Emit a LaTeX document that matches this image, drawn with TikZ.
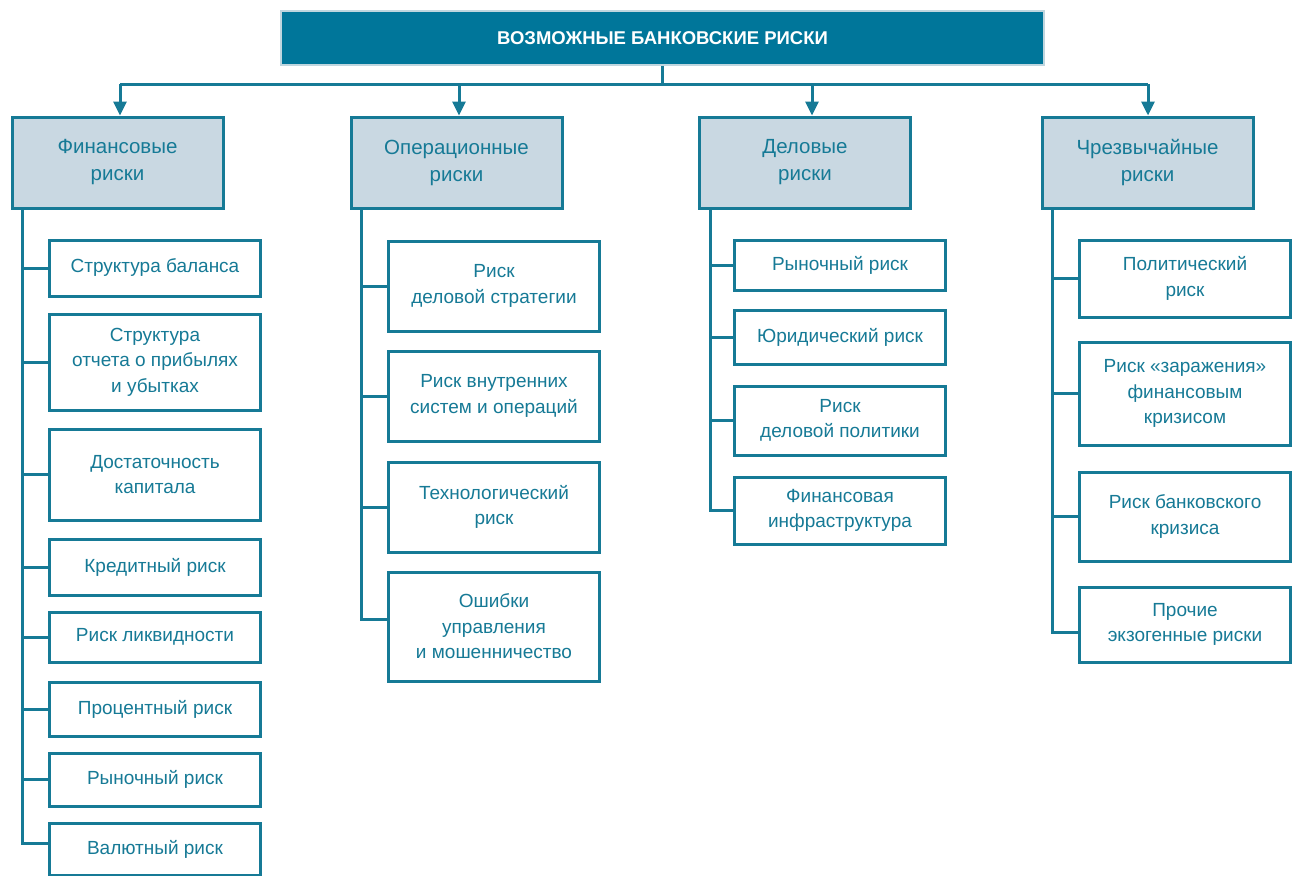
\documentclass[tikz,border=0pt]{standalone}
\usepackage{fontspec}
\setmainfont{Liberation Sans}
\usepackage{xcolor}
\usetikzlibrary{arrows.meta, positioning}
\definecolor{tealdark}{HTML}{00769A}
\definecolor{tealline}{HTML}{167A96}
\definecolor{catfill}{HTML}{C9D8E2}
\definecolor{topedge}{HTML}{BFD6DF}

\begin{document}
\begin{tikzpicture}[x=1pt,y=-1pt,
    top/.style={draw=topedge,line width=2pt,fill=tealdark,text=white,minimum width=763pt,minimum height=54pt,font=\fontsize{18.5}{20}\selectfont\bfseries},
    cat/.style={draw=tealline,line width=3pt,fill=catfill,text=tealline,minimum width=211pt,minimum height=91pt,align=center,font=\fontsize{20.5}{27}\selectfont},
    leaf/.style={draw=tealline,line width=3pt,fill=white,text=tealline,minimum width=211pt,align=center,font=\fontsize{19}{25.5}\selectfont},
    link/.style={draw=tealline,line width=3pt},
    arr/.style={link,-{Triangle[width=13pt,length=14pt]}}]
       \useasboundingbox (0,0) rectangle (1295,875);
       % head
       \node[top] (root) at (662.5,38) {ВОЗМОЖНЫЕ БАНКОВСКИЕ РИСКИ};
       \coordinate (bus) at (662.5,84);
       % groups
       \node[cat] (c1) at (117.5,162.5) {Финансовые\\риски};
       \node[cat] (c2) at (456.5,162.5) {Операционные\\риски};
       \node[cat] (c3) at (805,162.5) {Деловые\\риски};
       \node[cat] (c4) at (1147.5,162.5) {Чрезвычайные\\риски};
       \coordinate (a1) at ([xshift=2.5pt]c1.north);
       \coordinate (a2) at ([xshift=2.5pt]c2.north);
       \coordinate (a3) at ([xshift=7pt]c3.north);
       \coordinate (a4) at ([xshift=0.5pt]c4.north);
       \draw[link] (root.south) -- (bus);
       \draw[link] (bus -| a1) -- (bus -| a4);
       \draw[arr] (bus -| a1) -- (a1);
       \draw[arr] (bus -| a2) -- (a2);
       \draw[arr] (bus -| a3) -- (a3);
       \draw[arr] (bus -| a4) -- (a4);
       % financial
       \node[leaf,minimum height=56pt] (f1) at (155,268) {Структура баланса};
       \node[leaf,minimum height=96pt] (f2) at (155,362) {Структура\\отчета о прибылях\\и убытках};
       \node[leaf,minimum height=91pt] (f3) at (155,474.5) {Достаточность\\капитала};
       \node[leaf,minimum height=56pt] (f4) at (155,567) {Кредитный риск};
       \node[leaf,minimum height=50pt] (f5) at (155,637) {Риск ликвидности};
       \node[leaf,minimum height=54pt] (f6) at (155,709) {Процентный риск};
       \node[leaf,minimum height=53pt] (f7) at (155,779.5) {Рыночный риск};
       \node[leaf,minimum height=52pt] (f8) at (155,849.5) {Валютный риск};
       \coordinate (t1) at ([xshift=12pt]c1.south west);
       \draw[link] (t1) |- (f1.west);
       \draw[link] (t1) |- (f2.west);
       \draw[link] (t1) |- (f3.west);
       \draw[link] (t1) |- (f4.west);
       \draw[link] (t1) |- (f5.west);
       \draw[link] (t1) |- (f6.west);
       \draw[link] (t1) |- (f7.west);
       \draw[link] (t1) |- ([yshift=6pt]f8.west);
       % operational
       \node[leaf,minimum height=90pt] (o1) at (494,286) {Риск\\деловой стратегии};
       \node[leaf,minimum height=90pt] (o2) at (494,396) {Риск внутренних\\систем и операций};
       \node[leaf,minimum height=90pt] (o3) at (494,507) {Технологический\\риск};
       \node[leaf,minimum height=109pt] (o4) at (494,626.5) {Ошибки\\управления\\и мошенничество};
       \coordinate (t2) at ([xshift=12pt]c2.south west);
       \draw[link] (t2) |- (o1.west);
       \draw[link] (t2) |- (o2.west);
       \draw[link] (t2) |- (o3.west);
       \draw[link] (t2) |- ([yshift=7pt]o4.west);
       % business
       \node[leaf,minimum height=50pt] (d1) at (840,265) {Рыночный риск};
       \node[leaf,minimum height=54pt] (d2) at (840,337) {Юридический риск};
       \node[leaf,minimum height=69pt] (d3) at (840,420.5) {Риск\\деловой политики};
       \node[leaf,minimum height=67pt] (d4) at (840,510.5) {Финансовая\\инфраструктура};
       \coordinate (t3) at ([xshift=12pt]c3.south west);
       \draw[link] (t3) |- (d1.west);
       \draw[link] (t3) |- (d2.west);
       \draw[link] (t3) |- (d3.west);
       \draw[link] (t3) |- (d4.west);
       % emergency
       \node[leaf,minimum height=77pt] (e1) at (1185,278.5) {Политический\\риск};
       \node[leaf,minimum height=103pt] (e2) at (1185,393.5) {Риск «заражения»\\финансовым\\кризисом};
       \node[leaf,minimum height=89pt] (e3) at (1185,516.5) {Риск банковского\\кризиса};
       \node[leaf,minimum height=75pt] (e4) at (1185,624.5) {Прочие\\экзогенные риски};
       \coordinate (t4) at ([xshift=12pt]c4.south west);
       \draw[link] (t4) |- (e1.west);
       \draw[link] (t4) |- (e2.west);
       \draw[link] (t4) |- (e3.west);
       \draw[link] (t4) |- ([yshift=-8pt]e4.west);
     \end{tikzpicture}
\end{document}
